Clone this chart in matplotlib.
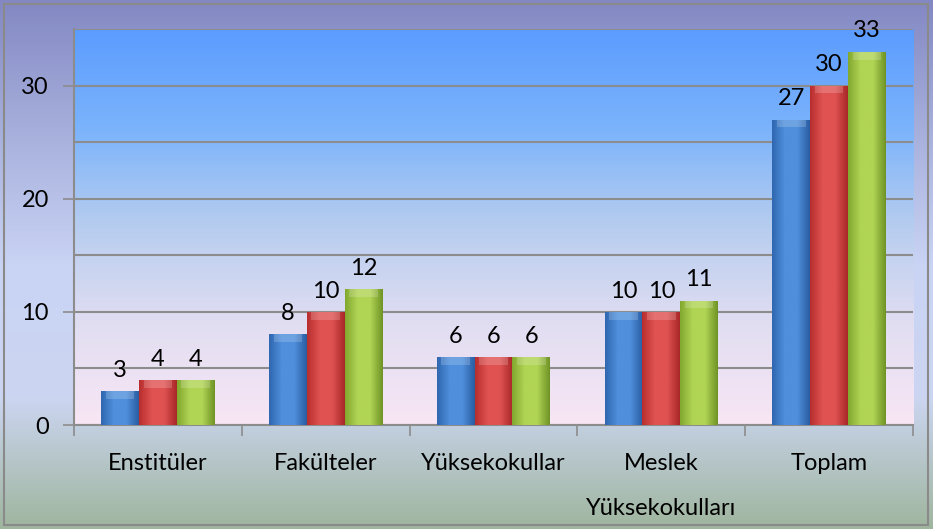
import numpy as np
import matplotlib
matplotlib.use("Agg")
import matplotlib.pyplot as plt
from matplotlib.colors import LinearSegmentedColormap
from matplotlib.patches import Rectangle

categories = ["Enstitüler", "Fakülteler", "Yüksekokullar", "Meslek\nYüksekokulları", "Toplam"]
series_a = [3, 8, 6, 10, 27]
series_b = [4, 10, 6, 10, 30]
series_c = [4, 12, 6, 11, 33]
yticks = [0, 10, 20, 30]

plt.rcParams['font.family'] = ['Lato', 'DejaVu Sans']

W, H = 933, 529
fig = plt.figure(figsize=(W / 100, H / 100), dpi=100)

# figure background gradient
bg = fig.add_axes([0, 0, 1, 1], zorder=-10)
bg_cmap = LinearSegmentedColormap.from_list(
    "bg", ["#8388c3", "#a7b0dc", "#c9d3f4", "#ccd6f2", "#9fb59e"])
grad = np.linspace(0, 1, 256).reshape(-1, 1)
bg.imshow(grad, aspect="auto", cmap=bg_cmap, extent=[0, 1, 0, 1], origin="upper")
bg.set_xlim(0, 1); bg.set_ylim(0, 1)
bg.axis("off")
bg.add_patch(Rectangle((0.004, 0.008), 0.991, 0.985, fill=False,
                       edgecolor="#8a8a8a", lw=1.5, transform=bg.transAxes))

ax = fig.add_axes([74 / W, 1 - 425 / H, (913 - 74) / W, (425 - 29) / H])
ax.set_facecolor("none")
pa_cmap = LinearSegmentedColormap.from_list(
    "pa", ["#5b9cff", "#7bb3fb", "#b7cdef", "#e2def2", "#f8e6f4"])
ax.imshow(grad, aspect="auto", cmap=pa_cmap, extent=[0, 1, 0, 1],
          origin="upper", transform=ax.transAxes, zorder=0)

x = np.arange(len(categories))
bw = 0.225
cols = [("#2f67b0", "#4f8fdc", "#2a5ea3"),
        ("#b82e2e", "#e05252", "#a82828"),
        ("#82a82f", "#b0d454", "#6f9426")]

ax.set_xlim(-0.5, len(categories) - 0.5)
ax.set_ylim(0, 35)

for i, (vals, c) in enumerate(zip([series_a, series_b, series_c], cols)):
    bars = ax.bar(x + (i - 1) * bw, vals, width=bw, color=c[1], zorder=3,
                  edgecolor="none")
    cm = LinearSegmentedColormap.from_list("b%d" % i, [c[0], c[1], c[1], c[2]])
    hgrad = np.linspace(0, 1, 64).reshape(1, -1)
    for b, v in zip(bars, vals):
        x0, w = b.get_x(), b.get_width()
        im = ax.imshow(hgrad, aspect="auto", cmap=cm,
                       extent=[x0, x0 + w, 0, v], zorder=4)
        im.set_clip_path(b)
        # top bevel highlight
        ax.add_patch(Rectangle((x0 + w * 0.12, v - 0.7), w * 0.76, 0.7,
                               color="white", alpha=0.18, zorder=5, lw=0))
        ax.text(x0 + w / 2, v + 0.9, str(v), ha="center", va="bottom",
                fontsize=17, color="black", zorder=6)

ax.set_aspect("auto")
ax.set_xlim(-0.5, len(categories) - 0.5)
ax.set_ylim(0, 35)

ax.set_yticks(yticks)
ax.set_yticks(np.arange(5, 36, 10), minor=True)
ax.yaxis.grid(True, which="both", color="#8c8c8c", lw=1.5, zorder=1)
ax.tick_params(axis="y", which="major", length=8, width=1.2, color="#8c8c8c",
               labelsize=17, pad=10)
ax.tick_params(axis="y", which="minor", length=0)

ax.set_xticks(x)
ax.set_xticklabels(categories, fontsize=17, linespacing=2.4)
ax.tick_params(axis="x", which="major", length=0, pad=20)
ax.set_xticks(np.arange(-0.5, len(categories), 1), minor=True)
ax.tick_params(axis="x", which="minor", length=8, width=1.2, color="#8c8c8c")

for s in ["top", "right"]:
    ax.spines[s].set_visible(False)
ax.spines["left"].set_color("#8c8c8c")
ax.spines["left"].set_linewidth(1.5)
ax.spines["bottom"].set_color("#8c8c8c")
ax.spines["bottom"].set_linewidth(1.5)
ax.set_axisbelow(False)

fig.savefig("out.png", dpi=100)
